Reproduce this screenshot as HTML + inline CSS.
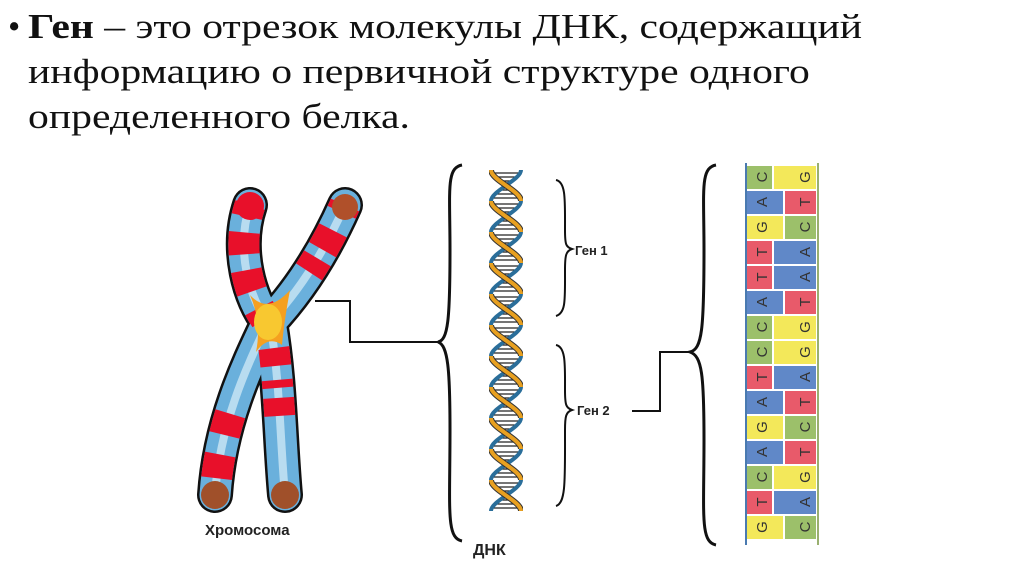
<!DOCTYPE html>
<html><head><meta charset="utf-8"><style>
body{margin:0;width:1024px;height:574px;background:#fff;overflow:hidden;position:relative;font-family:"Liberation Serif",serif}
.t{position:absolute;left:28px;top:4px;font-size:35px;line-height:45px;color:#111;transform:scaleX(1.19);transform-origin:0 0;white-space:nowrap}
.b{position:absolute;left:8px;top:4px;font-size:35px;line-height:45px;color:#111}
</style></head><body>
<div class="b">•</div>
<div class="t"><b>Ген</b> – это отрезок молекулы ДНК, содержащий<br>информацию о первичной структуре одного<br>определенного белка.</div>
<svg width="1024" height="574" style="position:absolute;left:0;top:0">
<defs>
<pattern id="dna" x="489" y="170" width="34" height="31" patternUnits="userSpaceOnUse">
<g stroke="#222" stroke-width="1.3">
<line x1="4" y1="3" x2="30" y2="3"/><line x1="6" y1="7" x2="28" y2="7"/><line x1="10" y1="11" x2="24" y2="11"/>
<line x1="10" y1="20" x2="24" y2="20"/><line x1="6" y1="24" x2="28" y2="24"/><line x1="4" y1="28" x2="30" y2="28"/>
</g>
<path d="M32,0 C32,10 2,21 2,31" stroke="#2a6e9a" stroke-width="4" fill="none"/>
<path d="M2,0 C2,10 32,21 32,31" stroke="#333" stroke-width="6" fill="none"/>
<path d="M2,0 C2,10 32,21 32,31" stroke="#e8a020" stroke-width="4" fill="none"/>
</pattern>
</defs>
<g fill="none">
<path d="M250,205 C235,250 250,300 268,322 C250,360 220,420 215,495" stroke="#111" stroke-width="36" stroke-linecap="round"/>
<path d="M345,205 C325,250 300,290 270,322 C280,380 280,440 285,495" stroke="#111" stroke-width="36" stroke-linecap="round"/>
<path d="M250,205 C235,250 250,300 268,322 C250,360 220,420 215,495" stroke="#6ab0dc" stroke-width="31" stroke-linecap="round"/>
<path d="M345,205 C325,250 300,290 270,322 C280,380 280,440 285,495" stroke="#6ab0dc" stroke-width="31" stroke-linecap="round"/>
<path d="M250,205 C235,250 250,300 268,322 C250,360 220,420 215,495" stroke="#b8dcf0" stroke-width="8"/>
<path d="M345,205 C325,250 300,290 270,322 C280,380 280,440 285,495" stroke="#b8dcf0" stroke-width="8"/>
<path d="M250,205 C235,250 250,300 268,322 C250,360 220,420 215,495" stroke="#e8102a" stroke-width="31" stroke-dasharray="12 16 22 16 22 18 12 104 22 20 24 22 20 100"/>
<path d="M345,205 C325,250 300,290 270,322 C280,380 280,440 285,495" stroke="#e8102a" stroke-width="31" stroke-dasharray="8 20 22 10 16 90 18 14 8 10 18 100"/>
</g>
<path d="M250,295 Q268,315 290,290 Q284,322 282,345 Q268,335 256,352 Q262,322 250,295Z" fill="#f5a020"/>
<ellipse cx="268" cy="322" rx="14" ry="18" fill="#f8c830"/>
<circle cx="215" cy="495" r="14" fill="#a0502a"/><circle cx="285" cy="495" r="14" fill="#a0502a"/><circle cx="345" cy="207" r="13" fill="#b0502a"/><circle cx="250" cy="206" r="14" fill="#e8102a"/>
<text x="205" y="535" font-family="Liberation Sans" font-weight="bold" font-size="15" fill="#222">Хромосома</text>
<g stroke="#111" stroke-width="2" fill="none">
<polyline points="315,301 350,301 350,342 438,342"/>
<polyline points="632,411 660,411 660,352 690,352"/>
<path d="M462,165 C446,168 450,190 450,250 C450,320 448,340 438,342 C448,345 450,370 450,430 C450,510 446,538 462,541" stroke-width="3"/>
<path d="M556,180 C566,182 565,200 565,230 C565,245 566,247 572,249 C566,251 565,255 565,270 C565,300 566,313 556,316" stroke-width="2"/>
<path d="M556,345 C566,347 565,365 565,390 C565,405 566,408 572,410 C566,412 565,416 565,430 C565,480 566,503 556,506" stroke-width="2"/>
<path d="M716,165 C700,168 704,190 704,250 C704,330 702,349 690,352 C702,356 704,375 704,440 C704,515 700,542 716,545" stroke-width="3"/>
</g>
<rect x="489" y="170" width="34" height="341" fill="url(#dna)"/>
<g font-family="Liberation Sans" font-weight="bold" fill="#222">
<text x="575" y="255" font-size="13">Ген 1</text>
<text x="577" y="415" font-size="13">Ген 2</text>
<text x="473" y="555" font-size="16">ДНК</text>
</g>
<g>
<rect x="747" y="166" width="25" height="23" fill="#9cc06a"/><rect x="774" y="166" width="42" height="23" fill="#f3e85a"/>
<rect x="747" y="191" width="36" height="23" fill="#6088c8"/><rect x="785" y="191" width="31" height="23" fill="#e85a6a"/>
<rect x="747" y="216" width="36" height="23" fill="#f3e85a"/><rect x="785" y="216" width="31" height="23" fill="#9cc06a"/>
<rect x="747" y="241" width="25" height="23" fill="#e85a6a"/><rect x="774" y="241" width="42" height="23" fill="#6088c8"/>
<rect x="747" y="266" width="25" height="23" fill="#e85a6a"/><rect x="774" y="266" width="42" height="23" fill="#6088c8"/>
<rect x="747" y="291" width="36" height="23" fill="#6088c8"/><rect x="785" y="291" width="31" height="23" fill="#e85a6a"/>
<rect x="747" y="316" width="25" height="23" fill="#9cc06a"/><rect x="774" y="316" width="42" height="23" fill="#f3e85a"/>
<rect x="747" y="341" width="25" height="23" fill="#9cc06a"/><rect x="774" y="341" width="42" height="23" fill="#f3e85a"/>
<rect x="747" y="366" width="25" height="23" fill="#e85a6a"/><rect x="774" y="366" width="42" height="23" fill="#6088c8"/>
<rect x="747" y="391" width="36" height="23" fill="#6088c8"/><rect x="785" y="391" width="31" height="23" fill="#e85a6a"/>
<rect x="747" y="416" width="36" height="23" fill="#f3e85a"/><rect x="785" y="416" width="31" height="23" fill="#9cc06a"/>
<rect x="747" y="441" width="36" height="23" fill="#6088c8"/><rect x="785" y="441" width="31" height="23" fill="#e85a6a"/>
<rect x="747" y="466" width="25" height="23" fill="#9cc06a"/><rect x="774" y="466" width="42" height="23" fill="#f3e85a"/>
<rect x="747" y="491" width="25" height="23" fill="#e85a6a"/><rect x="774" y="491" width="42" height="23" fill="#6088c8"/>
<rect x="747" y="516" width="36" height="23" fill="#f3e85a"/><rect x="785" y="516" width="31" height="23" fill="#9cc06a"/>
</g>
<line x1="746" y1="163" x2="746" y2="545" stroke="#4a7ab0" stroke-width="2"/>
<line x1="818" y1="163" x2="818" y2="545" stroke="#9ab070" stroke-width="2"/>
<g font-family="Liberation Sans" font-size="15" fill="#333">
<text transform="translate(762,177) rotate(-90)" text-anchor="middle" dy="5">C</text><text transform="translate(805,177) rotate(-90)" text-anchor="middle" dy="5">G</text>
<text transform="translate(762,202) rotate(-90)" text-anchor="middle" dy="5">A</text><text transform="translate(805,202) rotate(-90)" text-anchor="middle" dy="5">T</text>
<text transform="translate(762,227) rotate(-90)" text-anchor="middle" dy="5">G</text><text transform="translate(805,227) rotate(-90)" text-anchor="middle" dy="5">C</text>
<text transform="translate(762,252) rotate(-90)" text-anchor="middle" dy="5">T</text><text transform="translate(805,252) rotate(-90)" text-anchor="middle" dy="5">A</text>
<text transform="translate(762,277) rotate(-90)" text-anchor="middle" dy="5">T</text><text transform="translate(805,277) rotate(-90)" text-anchor="middle" dy="5">A</text>
<text transform="translate(762,302) rotate(-90)" text-anchor="middle" dy="5">A</text><text transform="translate(805,302) rotate(-90)" text-anchor="middle" dy="5">T</text>
<text transform="translate(762,327) rotate(-90)" text-anchor="middle" dy="5">C</text><text transform="translate(805,327) rotate(-90)" text-anchor="middle" dy="5">G</text>
<text transform="translate(762,352) rotate(-90)" text-anchor="middle" dy="5">C</text><text transform="translate(805,352) rotate(-90)" text-anchor="middle" dy="5">G</text>
<text transform="translate(762,377) rotate(-90)" text-anchor="middle" dy="5">T</text><text transform="translate(805,377) rotate(-90)" text-anchor="middle" dy="5">A</text>
<text transform="translate(762,402) rotate(-90)" text-anchor="middle" dy="5">A</text><text transform="translate(805,402) rotate(-90)" text-anchor="middle" dy="5">T</text>
<text transform="translate(762,427) rotate(-90)" text-anchor="middle" dy="5">G</text><text transform="translate(805,427) rotate(-90)" text-anchor="middle" dy="5">C</text>
<text transform="translate(762,452) rotate(-90)" text-anchor="middle" dy="5">A</text><text transform="translate(805,452) rotate(-90)" text-anchor="middle" dy="5">T</text>
<text transform="translate(762,477) rotate(-90)" text-anchor="middle" dy="5">C</text><text transform="translate(805,477) rotate(-90)" text-anchor="middle" dy="5">G</text>
<text transform="translate(762,502) rotate(-90)" text-anchor="middle" dy="5">T</text><text transform="translate(805,502) rotate(-90)" text-anchor="middle" dy="5">A</text>
<text transform="translate(762,527) rotate(-90)" text-anchor="middle" dy="5">G</text><text transform="translate(805,527) rotate(-90)" text-anchor="middle" dy="5">C</text>
</g>
</svg>
</body></html>
